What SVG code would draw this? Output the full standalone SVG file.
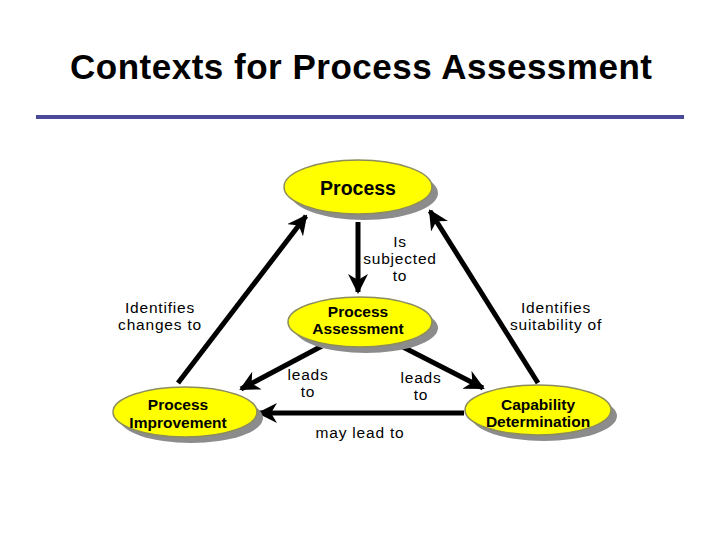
<svg xmlns="http://www.w3.org/2000/svg" width="720" height="540" viewBox="0 0 720 540">
<defs>
<marker id="ah" viewBox="0 0 10 10" refX="9" refY="5" markerWidth="4" markerHeight="4" orient="auto" markerUnits="strokeWidth">
<path d="M0,0 L10,5 L0,10 L3,5 Z" fill="#000"/>
</marker>
</defs>
<style>
.t{font-family:"Liberation Sans",Arial,sans-serif;fill:#000;text-anchor:middle}
.lbl{font-size:15.5px;letter-spacing:0.8px}
.nt{font-size:15.5px;font-weight:bold}
.el{fill:#ffff00;stroke:#8c8c5c;stroke-width:1.5}
.sh{fill:#8c8c8c}
.c{stroke:#000;stroke-width:5;fill:none;marker-end:url(#ah)}
</style>
<rect width="720" height="540" fill="#fff"/>
<text class="t" x="361" y="79" style="font-size:35px;font-weight:bold" textLength="582" lengthAdjust="spacing">Contexts for Process Assessment</text>
<line x1="36" y1="117" x2="684" y2="117" stroke="#4a4a98" stroke-width="4"/>
<g id="connectors">
<line class="c" x1="178" y1="383" x2="306" y2="216"/>
<line class="c" x1="538" y1="383" x2="430" y2="211"/>
<line class="c" x1="358" y1="222" x2="358" y2="292"/>
<line class="c" x1="322" y1="346" x2="241" y2="389"/>
<line class="c" x1="399" y1="345" x2="483" y2="388"/>
<line class="c" x1="464" y1="413" x2="259" y2="413"/>
</g>
<g id="process">
<ellipse class="sh" cx="364" cy="193" rx="74" ry="27"/>
<ellipse class="el" cx="358" cy="187" rx="74" ry="27"/>
<text class="t nt" x="358" y="195" style="font-size:19.5px">Process</text>
</g>
<g id="process-assessment">
<ellipse class="sh" cx="366" cy="328" rx="72" ry="25"/>
<ellipse class="el" cx="360" cy="322" rx="72" ry="25"/>
<text class="t nt" x="358" y="317">Process</text>
<text class="t nt" x="358" y="334">Assessment</text>
</g>
<g id="process-improvement">
<ellipse class="sh" cx="191" cy="418" rx="72" ry="25"/>
<ellipse class="el" cx="185" cy="412" rx="72" ry="25"/>
<text class="t nt" x="178" y="410">Process</text>
<text class="t nt" x="178" y="428">Improvement</text>
</g>
<g id="capability-determination">
<ellipse class="sh" cx="544" cy="416" rx="73" ry="25"/>
<ellipse class="el" cx="538" cy="410" rx="73" ry="25"/>
<text class="t nt" x="538" y="410">Capability</text>
<text class="t nt" x="538" y="427">Determination</text>
</g>
<g id="labels">
<text class="t lbl" x="400" y="247">Is</text>
<text class="t lbl" x="400" y="264">subjected</text>
<text class="t lbl" x="400" y="281">to</text>
<text class="t lbl" x="160" y="313">Identifies</text>
<text class="t lbl" x="160" y="330">changes to</text>
<text class="t lbl" x="556" y="313">Identifies</text>
<text class="t lbl" x="556" y="330">suitability of</text>
<text class="t lbl" x="308" y="380">leads</text>
<text class="t lbl" x="308" y="397">to</text>
<text class="t lbl" x="421" y="383">leads</text>
<text class="t lbl" x="421" y="400">to</text>
<text class="t lbl" x="360" y="438">may lead to</text>
</g>
</svg>
